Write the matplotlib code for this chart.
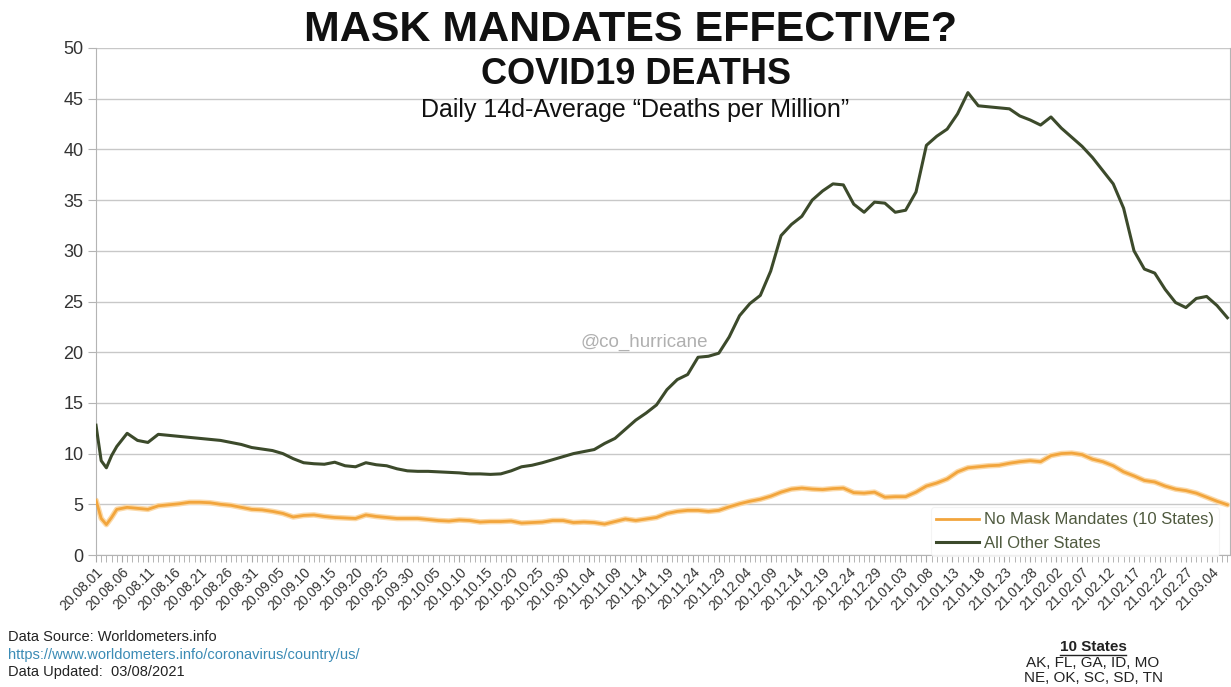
import numpy as np
import pandas as pd
import matplotlib
matplotlib.use('Agg')
import matplotlib.pyplot as plt
import matplotlib.dates as mdates
from matplotlib.lines import Line2D

# days after 2020-08-01
days = [0, 1, 2, 3, 4, 6, 8, 10, 12, 14, 16, 18, 20, 22, 24, 26, 28, 30, 32, 34,
        36, 38, 40, 42, 44, 46, 48, 50, 52, 54, 56, 58, 60, 62, 64, 66, 68, 70, 72, 74,
        76, 78, 80, 82, 84, 86, 88, 90, 92, 94, 96, 98, 100, 102, 104, 106, 108, 110, 112, 114,
        116, 118, 120, 122, 124, 126, 128, 130, 132, 134, 136, 138, 140, 142, 144, 146, 148, 150, 152, 154,
        156, 158, 160, 162, 164, 166, 168, 170, 172, 174, 176, 178, 180, 182, 184, 186, 188, 190, 192, 194,
        196, 198, 200, 202, 204, 206, 208, 210, 212, 214, 216, 218]

no_mask = [5.4, 3.6, 3.0, 3.7, 4.5, 4.7, 4.6, 4.5, 4.85, 4.95, 5.05, 5.2, 5.2, 5.15, 5.0, 4.9, 4.7, 4.5, 4.45, 4.3,
           4.1, 3.75, 3.9, 3.95, 3.8, 3.7, 3.65, 3.6, 3.95, 3.8, 3.7, 3.6, 3.6, 3.6, 3.5, 3.4, 3.35, 3.45, 3.4, 3.25,
           3.3, 3.3, 3.35, 3.15, 3.2, 3.25, 3.4, 3.4, 3.2, 3.25, 3.2, 3.05, 3.3, 3.55, 3.4, 3.55, 3.7, 4.1, 4.3, 4.4,
           4.4, 4.3, 4.4, 4.75, 5.05, 5.3, 5.5, 5.8, 6.2, 6.5, 6.6, 6.5, 6.45, 6.55, 6.6, 6.15, 6.1, 6.2, 5.7, 5.75,
           5.75, 6.2, 6.8, 7.1, 7.5, 8.2, 8.6, 8.7, 8.8, 8.85, 9.05, 9.2, 9.3, 9.2, 9.8, 10.0, 10.05, 9.9, 9.45, 9.2,
           8.8, 8.2, 7.8, 7.35, 7.2, 6.8, 6.5, 6.35, 6.1, 5.7, 5.3, 4.95]

other = [12.8, 9.3, 8.6, 9.8, 10.7, 12.0, 11.3, 11.1, 11.9, 11.8, 11.7, 11.6, 11.5, 11.4, 11.3, 11.1, 10.9, 10.6, 10.45, 10.3,
         10.0, 9.5, 9.1, 9.0, 8.95, 9.15, 8.8, 8.7, 9.1, 8.9, 8.8, 8.5, 8.3, 8.25, 8.25, 8.2, 8.15, 8.1, 8.0, 8.0,
         7.95, 8.0, 8.3, 8.7, 8.85, 9.1, 9.4, 9.7, 10.0, 10.2, 10.4, 11.0, 11.5, 12.4, 13.3, 14.0, 14.8, 16.3, 17.3, 17.8,
         19.5, 19.6, 19.9, 21.5, 23.6, 24.8, 25.6, 28.0, 31.5, 32.6, 33.4, 35.0, 35.9, 36.6, 36.5, 34.6, 33.8, 34.8, 34.7, 33.8,
         34.0, 35.8, 40.4, 41.3, 42.0, 43.5, 45.6, 44.3, 44.2, 44.1, 44.0, 43.3, 42.9, 42.4, 43.2, 42.1, 41.2, 40.3, 39.2, 37.9,
         36.6, 34.2, 30.0, 28.2, 27.8, 26.2, 24.9, 24.4, 25.3, 25.5, 24.6, 23.4]

start = pd.Timestamp('2020-08-01')
end = pd.Timestamp('2021-03-07')
dates = start + pd.to_timedelta(days, unit='D')
tick_dates = pd.date_range(start, end, freq='5D')

states_line1 = 'AK, FL, GA, ID, MO'
states_line2 = 'NE, OK, SC, SD, TN'

plt.rcParams['font.family'] = ['Liberation Sans', 'DejaVu Sans']
narrow = ['Liberation Sans Narrow', 'Liberation Sans', 'DejaVu Sans']

fig = plt.figure(figsize=(12.31, 6.87), dpi=100)
ax = fig.add_axes([96 / 1231, 132 / 687, 1134 / 1231, 507 / 687])

orange = '#f2a53c'
green = '#3c4a2b'
ax.plot(dates, no_mask, color='#fbd9a8', lw=4.0, solid_capstyle='round', zorder=2)
ax.plot(dates, no_mask, color=orange, lw=2.0, label='No Mask Mandates (10 States)', zorder=3)
ax.plot(dates, other, color=green, lw=2.2, label='All Other States', zorder=3)

ax.set_ylim(0, 50)
ax.set_yticks(np.arange(0, 51, 5))
ax.set_xlim(mdates.date2num(start), mdates.date2num(end) + 0.5)
ax.grid(axis='y', color='#c8c8c8', lw=1.0)
ax.set_axisbelow(True)
for s in ax.spines.values():
    s.set_color('#b4b4b4')
ax.spines['top'].set_visible(False)

ax.xaxis.set_major_locator(plt.FixedLocator(mdates.date2num(tick_dates)))
ax.xaxis.set_major_formatter(mdates.DateFormatter('%y.%m.%d'))
ax.xaxis.set_minor_locator(mdates.DayLocator())
ax.tick_params(axis='x', which='both', length=5, color='#a8a8a8', pad=2)
ax.tick_params(axis='y', length=6, color='#b4b4b4', labelsize=13, labelcolor='#333333', pad=3)
for lab in ax.get_xticklabels():
    lab.set_rotation(45)
    lab.set_ha('right')
    lab.set_rotation_mode('anchor')
    lab.set_fontsize(10)
    lab.set_family(narrow)
    lab.set_color('#333333')
for lab in ax.get_yticklabels():
    lab.set_family(narrow)

leg = ax.legend(loc='lower right', bbox_to_anchor=(0.998, -0.018), frameon=True,
                handlelength=2.6, handletextpad=0.3, labelspacing=0.5, borderpad=0.3,
                prop={'family': narrow, 'size': 12})
leg.get_frame().set_edgecolor('#f2f2f2')
leg.get_frame().set_linewidth(0.8)
for t in leg.get_texts():
    t.set_color('#4f5a3f')

fig.text(0.512, 0.956, 'MASK MANDATES EFFECTIVE?', ha='center', va='center',
         fontsize=31, fontweight='bold', color='#111111')
fig.text(0.517, 0.891, 'COVID19 DEATHS', ha='center', va='center',
         fontsize=26, fontweight='bold', color='#111111')
fig.text(0.516, 0.84, 'Daily 14d-Average \u201cDeaths per Million\u201d', ha='center', va='center',
         fontsize=18, color='#111111')
fig.text(0.523, 0.502, '@co_hurricane', ha='center', va='center',
         fontsize=13.5, color='#b0b0b0', family=narrow)

fig.text(8 / 1231, 1 - 637 / 687, 'Data Source: Worldometers.info', ha='left', va='center',
         fontsize=10.5, color='#222222')
fig.text(8 / 1231, 1 - 655 / 687, 'https://www.worldometers.info/coronavirus/country/us/', ha='left', va='center',
         fontsize=10.5, color='#3b8bb5')
fig.text(8 / 1231, 1 - 672 / 687, 'Data Updated:  03/08/2021', ha='left', va='center',
         fontsize=10.5, color='#222222')

hx = 1093 / 1231
t10 = fig.text(hx, 1 - 647 / 687, '10 States', ha='center', va='center',
               fontsize=11, fontweight='bold', color='#222222', family=narrow)
fig.text(hx, 1 - 663 / 687, states_line1, ha='center', va='center',
         fontsize=11, color='#222222', family=narrow)
fig.text(hx, 1 - 678 / 687, states_line2, ha='center', va='center',
         fontsize=11, color='#222222', family=narrow)

fig.canvas.draw()
bb = t10.get_window_extent().transformed(fig.transFigure.inverted())
fig.add_artist(Line2D([bb.x0, bb.x1], [bb.y0 - 0.002, bb.y0 - 0.002], color='#222222', lw=1.0,
                      transform=fig.transFigure))

fig.savefig('out.png', dpi=100, facecolor='white')
